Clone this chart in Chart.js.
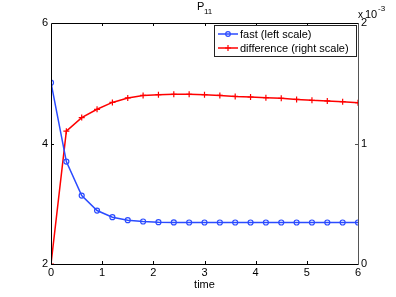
<!DOCTYPE html>
<html>
<head>
<meta charset="utf-8">
<script src="https://cdn.jsdelivr.net/npm/chart.js@4"></script>
<style>
  html, body { margin: 0; padding: 0; background: #fff; }
  #wrap { width: 396px; height: 297px; }
</style>
</head>
<body>
<div id="wrap"><canvas id="pChart" width="396" height="297"></canvas></div>
<script>
const times = [0, 0.3, 0.6, 0.9, 1.2, 1.5, 1.8, 2.1, 2.4, 2.7, 3.0, 3.3, 3.6, 3.9, 4.2, 4.5, 4.8, 5.1, 5.4, 5.7, 6.0];
const fastValues = [5.01, 3.70, 3.135, 2.887, 2.777, 2.727, 2.705, 2.694, 2.69, 2.689, 2.689, 2.689, 2.689, 2.689, 2.689, 2.689, 2.689, 2.689, 2.689, 2.689, 2.689];
const diffValues = [0, 1.102e-3, 1.215e-3, 1.284e-3, 1.341e-3, 1.378e-3, 1.399e-3, 1.405e-3, 1.408e-3, 1.408e-3, 1.405e-3, 1.399e-3, 1.391e-3, 1.386e-3, 1.380e-3, 1.375e-3, 1.366e-3, 1.358e-3, 1.353e-3, 1.347e-3, 1.339e-3];
const xTicks = [0, 1, 2, 3, 4, 5, 6];
const leftTicks = [2, 4, 6];
const rightTicks = [0, 1e-3, 2e-3];

const FONT = "'Liberation Sans', Arial, sans-serif";
const BLUE = "#2b4bff";
const RED = "#ff0000";

// box, inward ticks, title, exponent, x label and legend
const decorations = {
    id: "decorations",
    afterDraw(chart) {
        const c = chart.ctx;
        const a = chart.chartArea;
        const sx = chart.scales.x, sl = chart.scales.yL, sr = chart.scales.yR;
        c.save();
        c.lineWidth = 1;
        c.strokeStyle = "#000";
        c.beginPath();
        c.moveTo(a.left + 0.5, a.bottom + 0.5);
        c.lineTo(a.left + 0.5, a.top + 0.5);
        c.lineTo(a.right + 0.5, a.top + 0.5);
        c.moveTo(a.left, a.bottom + 0.5);
        c.lineTo(a.right, a.bottom + 0.5);
        xTicks.slice(1, -1).forEach(function (t) {
            const px = Math.round(sx.getPixelForValue(t)) + 0.5;
            c.moveTo(px, a.bottom); c.lineTo(px, a.bottom - 3);
            c.moveTo(px, a.top); c.lineTo(px, a.top + 3);
        });
        leftTicks.slice(1, -1).forEach(function (t) {
            const py = Math.round(sl.getPixelForValue(t)) + 0.5;
            c.moveTo(a.left, py); c.lineTo(a.left + 3, py);
        });
        c.stroke();
        c.strokeStyle = "#555";
        c.beginPath();
        c.moveTo(a.right + 0.5, a.top);
        c.lineTo(a.right + 0.5, a.bottom + 1);
        rightTicks.slice(1, -1).forEach(function (t) {
            const py = Math.round(sr.getPixelForValue(t)) + 0.5;
            c.moveTo(a.right, py); c.lineTo(a.right - 3, py);
        });
        c.stroke();

        c.fillStyle = "#000";
        c.textBaseline = "alphabetic";
        c.textAlign = "left";
        c.font = "11px " + FONT;
        c.fillText("P", 197, 10);
        c.font = "8px " + FONT;
        c.fillText("11", 204, 14);
        c.font = "10px " + FONT;
        c.fillText("x", 358, 18);
        c.font = "11px " + FONT;
        c.fillText("10", 365, 18);
        c.font = "8px " + FONT;
        c.fillText("-3", 378, 11);
        c.font = "11px " + FONT;
        c.textAlign = "center";
        c.fillText("time", (a.left + a.right) / 2, 288);

        // legend
        const lx = 214, ly = 25, lw = 142, lh = 31;
        c.fillStyle = "#fff";
        c.fillRect(lx, ly, lw, lh);
        c.strokeStyle = "#222";
        c.strokeRect(lx + 0.5, ly + 0.5, lw, lh);
        chart.data.datasets.forEach(function (ds, i) {
            const yy = ly + 9 + i * 14;
            c.strokeStyle = ds.borderColor;
            c.lineWidth = 1.5;
            c.beginPath();
            c.moveTo(218, yy); c.lineTo(238, yy);
            c.stroke();
            c.lineWidth = 1.2;
            c.beginPath();
            if (i === 0) {
                c.arc(228, yy, 2.3, 0, Math.PI * 2);
            } else {
                c.moveTo(225, yy); c.lineTo(231, yy);
                c.moveTo(228, yy - 3); c.lineTo(228, yy + 3);
            }
            c.stroke();
            c.fillStyle = "#000";
            c.textAlign = "left";
            c.textBaseline = "middle";
            c.font = "11px " + FONT;
            c.fillText(ds.label, 240, yy + 0.5);
        });
        c.restore();
    }
};

new Chart(document.getElementById("pChart"), {
    type: "line",
    data: {
        datasets: [{
            label: "fast (left scale)",
            data: times.map((t, i) => ({ x: t, y: fastValues[i] })),
            yAxisID: "yL",
            borderColor: BLUE,
            borderWidth: 1.5,
            pointStyle: "circle",
            pointRadius: 2.5,
            pointBorderWidth: 1.2,
            pointBorderColor: BLUE,
            pointBackgroundColor: "rgba(0,0,0,0)",
            tension: 0
        }, {
            label: "difference (right scale)",
            data: times.map((t, i) => ({ x: t, y: diffValues[i] })),
            yAxisID: "yR",
            borderColor: RED,
            borderWidth: 1.5,
            pointStyle: "cross",
            pointRadius: 3,
            pointBorderWidth: 1.2,
            pointBorderColor: RED,
            tension: 0
        }]
    },
    options: {
        responsive: false,
        animation: false,
        layout: { padding: { top: 23, left: 0, right: 0, bottom: 0 } },
        plugins: { legend: { display: false }, title: { display: false }, tooltip: { enabled: false } },
        scales: {
            x: {
                type: "linear",
                min: 0, max: 6,
                afterFit: function (s) { s.height = 33; },
                afterBuildTicks: function (s) { s.ticks = xTicks.map(v => ({ value: v })); },
                grid: { display: false, drawTicks: false },
                border: { display: false },
                ticks: { padding: 2, color: "#000", font: { family: FONT, size: 11 } }
            },
            yL: {
                type: "linear",
                position: "left",
                min: 2, max: 6,
                afterFit: function (s) { s.width = 51; },
                afterBuildTicks: function (s) { s.ticks = leftTicks.map(v => ({ value: v })); },
                grid: { display: false, drawTicks: false },
                border: { display: false },
                ticks: { padding: 3, color: "#000", font: { family: FONT, size: 11 } }
            },
            yR: {
                type: "linear",
                position: "right",
                min: 0, max: 2e-3,
                afterFit: function (s) { s.width = 38; },
                afterBuildTicks: function (s) { s.ticks = rightTicks.map(v => ({ value: v })); },
                grid: { display: false, drawTicks: false },
                border: { display: false },
                ticks: {
                    padding: 3, color: "#000", font: { family: FONT, size: 11 },
                    callback: function (v) { return String(Math.round(v * 1000)); }
                }
            }
        }
    },
    plugins: [decorations]
});
</script>
</body>
</html>
